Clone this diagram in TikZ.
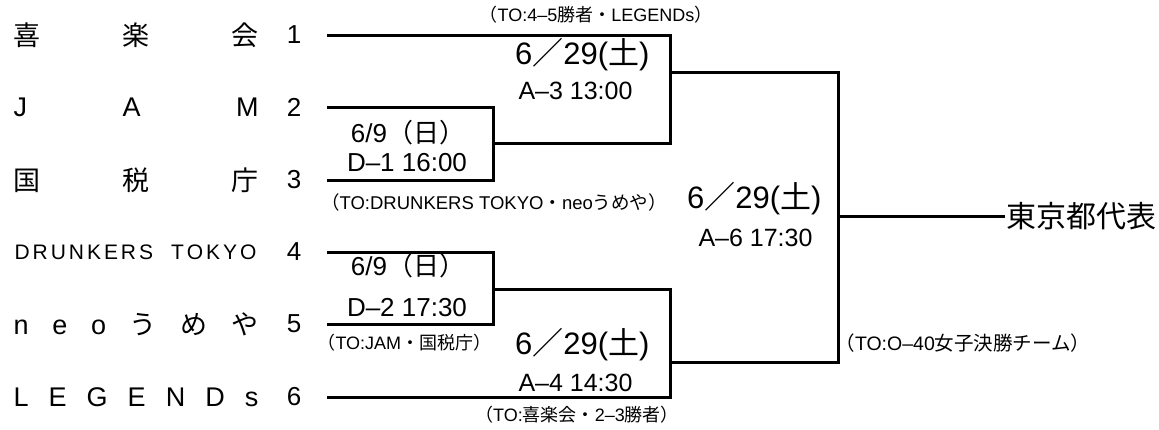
\documentclass[tikz,border=0pt]{standalone}
\usepackage{fontspec}
\setmainfont{Liberation Sans}
\newfontfamily\jp{Noto Sans CJK JP}
\begin{document}
\begin{tikzpicture}[x=1pt,y=-1pt,line width=3pt,line join=miter]
\useasboundingbox (0,0) rectangle (1159,429);
\tikzset{
 team/.style={anchor=west,inner sep=0pt,font=\fontsize{27}{27}\selectfont},
 teamsm/.style={anchor=west,inner sep=0pt,font=\fontsize{21}{21}\selectfont},
 num/.style={inner sep=0pt,font=\fontsize{26}{26}\selectfont},
 date/.style={inner sep=0pt,font=\fontsize{26}{26}\selectfont},
 tm/.style={anchor=east,inner sep=0pt,font=\fontsize{25}{25}\selectfont},
 big/.style={anchor=east,inner sep=0pt,font=\fontsize{31}{31}\selectfont},
 small/.style={inner sep=0pt,font=\fontsize{18}{18}\selectfont},
 champ/.style={anchor=west,inner sep=0pt,font=\fontsize{30}{30}\selectfont\jp}
}
% team names
\node[team] (n1) at (12,35) {\hbox to 245pt{\jp 喜\hfill 楽\hfill 会}};
\node[team] (n2) at (12,107) {\hbox to 245pt{J\hfill A\hfill M}};
\node[team] (n3) at (12,180) {\hbox to 245pt{\jp 国\hfill 税\hfill 庁}};
\node[teamsm] (n4) at (13,252) {\hbox to 242pt{D\hfill R\hfill U\hfill N\hfill K\hfill E\hfill R\hfill S\hfill\hspace{12pt}\hfill T\hfill O\hfill K\hfill Y\hfill O}};
\node[team] (n5) at (12,324) {\hbox to 245pt{n\hfill e\hfill o\hfill {\jp う}\hfill {\jp め}\hfill {\jp や}}};
\node[team] (n6) at (12,397) {\hbox to 245pt{L\hfill E\hfill G\hfill E\hfill N\hfill D\hfill s}};
\node[num] (k1) at (294,35) {1};
\node[num] (k2) at (294,107) {2};
\node[num] (k3) at (294,180) {3};
\node[num] (k4) at (294,252) {4};
\node[num] (k5) at (294,324) {5};
\node[num] (k6) at (294,397) {6};
% bracket coordinates
\coordinate (a1) at (327,35);  \coordinate (b1) at (670,35);
\coordinate (a2) at (327,107); \coordinate (c2) at (493,107);
\coordinate (a3) at (327,180); \coordinate (c3) at (493,180);
\coordinate (c23) at (493,143); \coordinate (b23) at (670,143);
\coordinate (b13) at (670,72); \coordinate (d13) at (838,72);
\coordinate (a4) at (327,252); \coordinate (c4) at (493,252);
\coordinate (a5) at (327,324); \coordinate (c5) at (493,324);
\coordinate (c45) at (493,289); \coordinate (b45) at (670,289);
\coordinate (a6) at (327,397); \coordinate (b6) at (670,397);
\coordinate (b46) at (670,362); \coordinate (d46) at (838,362);
\coordinate (dm) at (838,216);
\node[champ] (ch) at (1005,216) {東京都代表};
% brackets
\draw (a1) -- (b1) -- (b23) -- (c23);
\draw (a2) -- (c2) -- (c3) -- (a3);
\draw (a4) -- (c4) -- (c5) -- (a5);
\draw (a6) -- (b6) -- (b45) -- (c45);
\draw (b13) -- (d13) -- (d46) -- (b46);
\draw (dm) -- (ch.west);
% match labels
\node[date] (m1a) at (408,133) {6/9{\jp （日）}};
\node[date] (m1b) at (407,163) {D–1 16:00};
\node[date] (m2a) at (408,266) {6/9{\jp （日）}};
\node[date] (m2b) at (407,308) {D–2 17:30};
\node[big] (m3a) at (651,55) {6{\jp ／}29({\jp 土})};
\node[tm] (m3b) at (634,91) {A–3 13:00};
\node[big] (m4a) at (651,345) {6{\jp ／}29({\jp 土})};
\node[tm] (m4b) at (634,383) {A–4 14:30};
\node[big] (m6a) at (823,199) {6{\jp ／}29({\jp 土})};
\node[tm] (m6b) at (814,238) {A–6 17:30};
% TO labels
\node[small] (o1) at (596,15) {{\jp （}TO:4–5{\jp 勝者・}LEGENDs{\jp ）}};
\node[small,font=\fontsize{18.5}{18.5}\selectfont] (o2) at (494,202) {{\jp （}TO:DRUNKERS TOKYO{\jp ・}neo{\jp うめや）}};
\node[small,anchor=west] (o3) at (316,343) {{\jp （}TO:JAM{\jp ・国税庁）}};
\node[small] (o4) at (577,415) {{\jp （}TO:{\jp 喜楽会・}2–3{\jp 勝者）}};
\node[small,anchor=west,font=\fontsize{19.5}{19.5}\selectfont] (o5) at (834,343) {{\jp （}TO:O–40{\jp 女子決勝チーム）}};
\end{tikzpicture}
\end{document}
